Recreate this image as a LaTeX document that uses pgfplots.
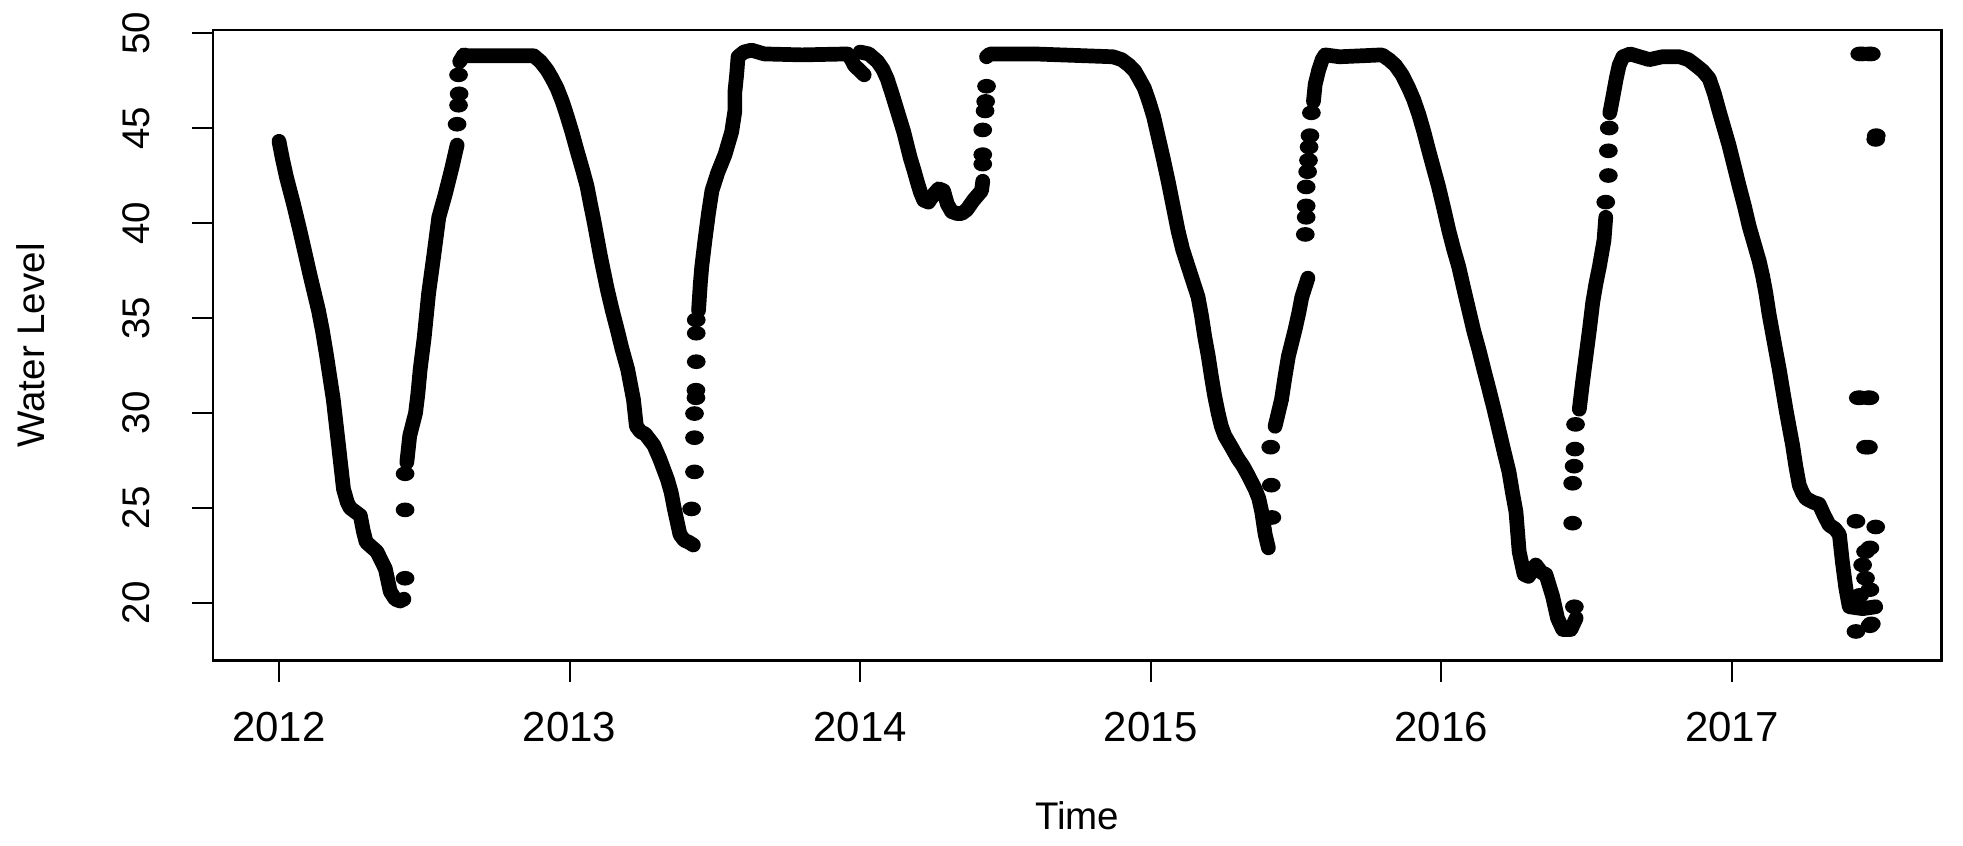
\documentclass[border=0pt]{standalone}
\usepackage{fontspec}
\setmainfont{Liberation Sans}
\usepackage{pgfplots}
\pgfplotsset{compat=1.18}
\begin{document}
\begin{tikzpicture}
\path[use as bounding box] (-60.86pt,-52.66pt) rectangle (500pt,188.77pt);
\begin{axis}[
  scale only axis, width=493.9pt, height=180.2pt,
  at={(0,0)}, anchor=south west,
  xmin=2011.773, xmax=2017.722, ymin=16.96, ymax=50.16,
  axis line style={line width=0.7pt, black},
  xtick={2012,2013,2014,2015,2016,2017}, ytick={20,25,30,35,40,45,50},
  tick align=outside, major tick length=6pt,
  tick style={line width=0.6pt, black},
  xtick pos=left, ytick pos=left,
  scaled ticks=false,
  /pgf/number format/assume math mode=true,
  /pgf/number format/1000 sep={},
  tick label style={font=\fontsize{11}{13}\selectfont, black},
  xticklabel style={anchor=center, font=\fontsize{12}{14}\selectfont},
  xticklabel shift=12.9pt,
  yticklabel style={rotate=90, anchor=center},
  yticklabel shift=16pt,
  xlabel={Time}, ylabel={Water Level},
  label style={font=\fontsize{11}{13}\selectfont, black},
  xlabel style={at={(axis description cs:0.5,-0.2464)}, anchor=center},
  ylabel style={at={(axis description cs:-0.1053,0.5)}, anchor=center},
  clip=true,
]
\pgfplotsset{band/.style={black, line width=4.2pt, line cap=round, line join=round},
             dots/.style={only marks, mark=*, mark size=1.9pt, mark options={xscale=1.3, fill=black, draw=black}}}
% band 1
\addplot[band] coordinates {(2012.000,44.3) (2012.013,43.3) (2012.026,42.4) (2012.05,41.0) (2012.072,39.6) (2012.09,38.4) (2012.107,37.25) (2012.136,35.4) (2012.15,34.3) (2012.164,33.0) (2012.187,30.7) (2012.205,28.3) (2012.222,26.0) (2012.235,25.3) (2012.245,25.0) (2012.28,24.6) (2012.29,23.8) (2012.30,23.2) (2012.337,22.7) (2012.366,21.8) (2012.383,20.6) (2012.40,20.2) (2012.417,20.1) (2012.43,20.2)};
\addplot[dots] coordinates {(2012.434,21.3) (2012.434,24.9) (2012.434,26.8)};
% band 2
\addplot[band] coordinates {(2012.44,27.4) (2012.45,28.8) (2012.47,30.0) (2012.478,31.0) (2012.486,32.3) (2012.50,34.0) (2012.515,36.3) (2012.532,38.2) (2012.55,40.3) (2012.572,41.5) (2012.595,42.9) (2012.613,44.1)};
\addplot[dots] coordinates {(2012.613,45.2) (2012.618,46.2) (2012.62,46.8) (2012.618,47.8)};
\addplot[band] coordinates {(2012.622,48.5) (2012.636,48.85) (2012.65,48.8) (2012.877,48.8) (2012.90,48.5) (2012.923,48.05) (2012.94,47.6) (2012.957,47.1) (2012.975,46.4) (2012.99,45.7) (2013.008,44.8) (2013.026,43.8) (2013.043,42.9) (2013.06,41.95) (2013.072,41.0) (2013.084,40.1) (2013.107,38.2) (2013.13,36.5) (2013.147,35.4) (2013.164,34.4) (2013.18,33.4) (2013.20,32.3) (2013.21,31.5) (2013.22,30.7) (2013.23,29.3) (2013.245,29.0) (2013.26,28.9) (2013.29,28.3) (2013.31,27.6) (2013.337,26.5) (2013.35,25.8) (2013.36,25.0) (2013.38,23.6) (2013.395,23.3) (2013.41,23.2) (2013.426,23.05)};
\addplot[dots] coordinates {(2013.42,24.95) (2013.43,26.9) (2013.43,28.7) (2013.43,29.97) (2013.435,30.8) (2013.435,31.2) (2013.436,32.7) (2013.436,34.2) (2013.436,34.9)};
% band 3
\addplot[band] coordinates {(2013.444,35.4) (2013.45,36.8) (2013.455,37.7) (2013.466,39.1) (2013.478,40.5) (2013.49,41.7) (2013.51,42.65) (2013.535,43.6) (2013.558,44.8) (2013.569,45.9) (2013.569,46.9) (2013.575,47.8) (2013.58,48.75) (2013.6,49.0) (2013.626,49.1) (2013.67,48.9) (2013.8,48.85) (2013.957,48.9) (2013.97,48.6) (2013.98,48.3) (2014.014,47.8)};
% band 4
\addplot[band] coordinates {(2014.0,49.0) (2014.03,48.9) (2014.06,48.5) (2014.078,48.1) (2014.093,47.6) (2014.11,46.8) (2014.128,45.9) (2014.15,44.8) (2014.173,43.4) (2014.185,42.8) (2014.196,42.2) (2014.208,41.6) (2014.219,41.2) (2014.235,41.1) (2014.253,41.5) (2014.27,41.8) (2014.287,41.7) (2014.30,41.0) (2014.315,40.6) (2014.333,40.5) (2014.35,40.5) (2014.367,40.7) (2014.39,41.2) (2014.418,41.7) (2014.422,42.2)};
\addplot[dots] coordinates {(2014.422,43.1) (2014.422,43.6) (2014.422,44.9) (2014.43,45.9) (2014.432,46.4) (2014.435,47.2)};
% band 5
\addplot[band] coordinates {(2014.435,48.75) (2014.447,48.9) (2014.6,48.9) (2014.87,48.75) (2014.90,48.6) (2014.926,48.3) (2014.945,48.0) (2014.96,47.6) (2014.978,47.1) (2014.994,46.4) (2015.01,45.6) (2015.025,44.6) (2015.043,43.4) (2015.06,42.2) (2015.077,40.9) (2015.094,39.6) (2015.11,38.6) (2015.129,37.7) (2015.146,36.9) (2015.163,36.1) (2015.175,35.1) (2015.186,34.0) (2015.198,33.0) (2015.209,31.9) (2015.22,30.9) (2015.232,30.0) (2015.243,29.3) (2015.255,28.8) (2015.278,28.2) (2015.30,27.6) (2015.318,27.2) (2015.336,26.7) (2015.359,26.0) (2015.372,25.5) (2015.382,24.8) (2015.394,23.6) (2015.405,22.9)};
\addplot[dots] coordinates {(2015.417,24.5) (2015.415,26.2) (2015.413,28.2)};
% band 6
\addplot[band] coordinates {(2015.428,29.3) (2015.45,30.7) (2015.462,31.9) (2015.474,33.0) (2015.497,34.4) (2015.51,35.3) (2015.52,36.1) (2015.541,37.1)};
\addplot[dots] coordinates {(2015.532,39.4) (2015.535,40.3) (2015.535,40.9) (2015.535,41.9) (2015.54,42.7) (2015.543,43.3) (2015.545,44.0) (2015.548,44.6) (2015.553,45.8)};
% band 7
\addplot[band] coordinates {(2015.56,46.4) (2015.566,47.3) (2015.578,48.05) (2015.59,48.6) (2015.60,48.85) (2015.65,48.75) (2015.796,48.85) (2015.82,48.6) (2015.842,48.3) (2015.865,47.8) (2015.888,47.1) (2015.905,46.5) (2015.923,45.7) (2015.94,44.8) (2015.957,43.8) (2015.973,42.9) (2015.99,41.95) (2016.008,40.8) (2016.026,39.6) (2016.043,38.6) (2016.06,37.7) (2016.078,36.5) (2016.095,35.4) (2016.112,34.3) (2016.13,33.3) (2016.148,32.2) (2016.165,31.2) (2016.183,30.1) (2016.20,29.0) (2016.217,27.9) (2016.233,26.9) (2016.245,25.8) (2016.257,24.8) (2016.268,22.7) (2016.285,21.5) (2016.30,21.4) (2016.325,22.0) (2016.345,21.6) (2016.36,21.5) (2016.383,20.35) (2016.40,19.2) (2016.418,18.6) (2016.446,18.6) (2016.464,19.2)};
\addplot[dots] coordinates {(2016.458,19.8) (2016.452,24.2) (2016.452,26.3) (2016.457,27.2) (2016.46,28.1) (2016.462,29.4)};
% band 8
\addplot[band] coordinates {(2016.475,30.2) (2016.486,31.6) (2016.498,33.0) (2016.51,34.4) (2016.521,35.8) (2016.532,36.8) (2016.544,37.7) (2016.56,39.1) (2016.566,40.3)};
\addplot[dots] coordinates {(2016.566,41.1) (2016.575,42.5) (2016.575,43.8) (2016.578,45.0)};
% band 9
\addplot[band] coordinates {(2016.58,45.8) (2016.59,46.6) (2016.602,47.6) (2016.612,48.3) (2016.625,48.75) (2016.65,48.9) (2016.716,48.6) (2016.76,48.75) (2016.82,48.75) (2016.85,48.6) (2016.876,48.3) (2016.9,48.0) (2016.922,47.6) (2016.94,46.8) (2016.956,45.9) (2016.973,45.0) (2016.99,44.1) (2017.008,43.0) (2017.025,41.95) (2017.043,40.9) (2017.06,39.8) (2017.077,38.9) (2017.094,38.0) (2017.106,37.2) (2017.117,36.3) (2017.128,35.2) (2017.14,34.2) (2017.152,33.2) (2017.163,32.3) (2017.175,31.2) (2017.186,30.2) (2017.198,29.2) (2017.209,28.3) (2017.22,27.2) (2017.232,26.2) (2017.243,25.8) (2017.255,25.5) (2017.28,25.3) (2017.30,25.2) (2017.318,24.6) (2017.335,24.1) (2017.355,23.9) (2017.37,23.6) (2017.38,22.2) (2017.392,20.8) (2017.404,19.8) (2017.45,19.7) (2017.495,19.8)};
\addplot[dots] coordinates {(2017.427,24.3) (2017.495,24.0) (2017.44,48.9) (2017.45,48.9) (2017.47,48.9) (2017.48,48.9) (2017.495,44.4) (2017.497,44.6) (2017.435,30.8) (2017.442,30.8) (2017.468,30.8) (2017.475,30.8) (2017.46,28.2) (2017.47,28.2) (2017.475,22.9) (2017.46,22.7) (2017.45,22.0) (2017.46,21.3) (2017.475,20.7) (2017.427,18.5) (2017.475,18.8) (2017.48,18.9) (2017.44,20.4)};
\end{axis}
\end{tikzpicture}
\end{document}
